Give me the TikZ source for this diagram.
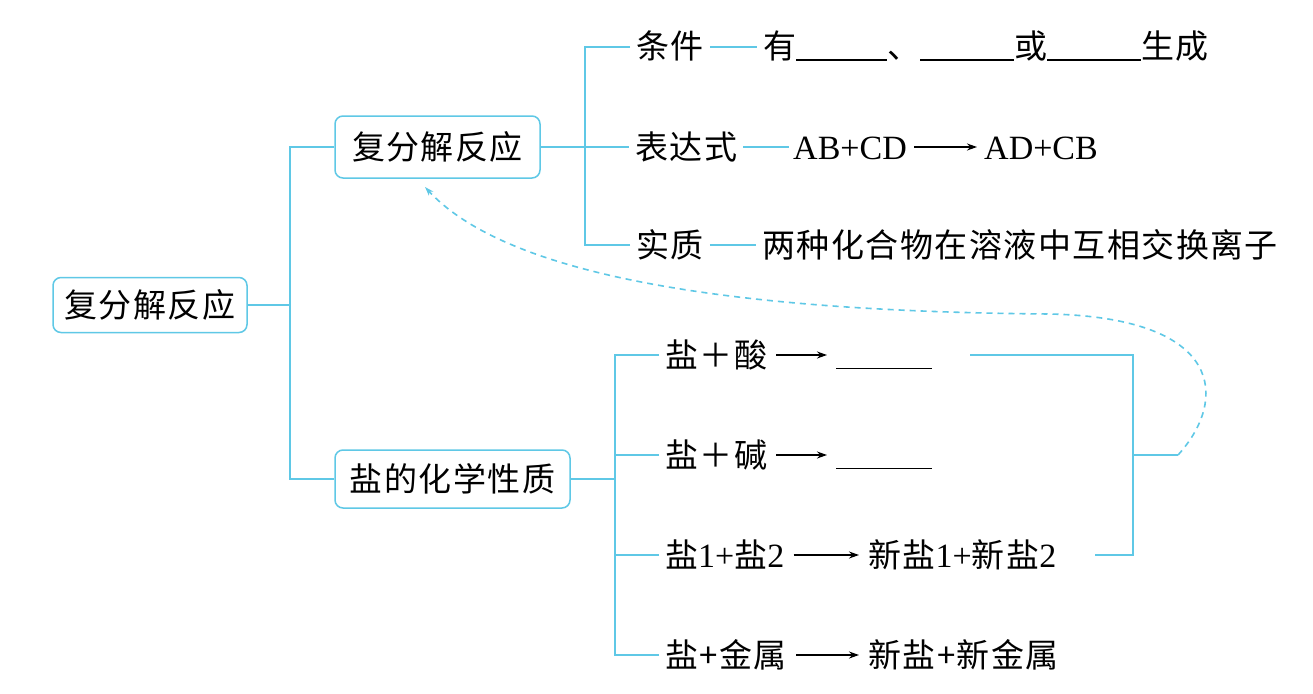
\documentclass[tikz,border=0pt]{standalone}
\usepackage{fontspec}
\setmainfont{Liberation Serif}
\newfontfamily\cjk[LetterSpace=4.5]{Noto Sans CJK SC}
\usetikzlibrary{arrows.meta}
\definecolor{mapline}{RGB}{95,200,230}
\newcommand{\latnum}[1]{{\rmfamily\fontsize{34}{40}\selectfont #1}}
\tikzset{
  cjkfont/.style={font=\cjk\fontsize{33}{38}\selectfont},
  mapbox/.style={cjkfont, draw=mapline, line width=1.5pt, rounded corners=8pt, fill=white,
    inner sep=0pt, text height=29pt, text depth=5pt, align=center},
  lbl/.style={cjkfont, inner xsep=6pt, inner ysep=3pt, text height=29pt, text depth=5pt, anchor=west},
  latin/.style={font=\rmfamily\fontsize{34}{40}\selectfont, inner xsep=4pt, inner ysep=3pt, text height=29pt, text depth=5pt, anchor=west},
  conn/.style={draw=mapline, line width=1.8pt},
  reactarrow/.style={-{Stealth[length=10pt,width=7pt]}, line width=1.4pt, black, shorten <=3pt, shorten >=3pt},
  loopback/.style={draw=mapline, line width=1.6pt, dash pattern=on 6pt off 5pt, -{Stealth[length=9pt,width=6pt]}},
}
\begin{document}
\begin{tikzpicture}[x=1pt,y=-1pt]
\useasboundingbox[fill=white] (0,0) rectangle (1313,693);

% boxes
\node[mapbox, minimum width=194pt, minimum height=55pt] (L) at (150,305) {复分解反应};
\node[mapbox, minimum width=205pt, minimum height=62pt] (T) at (437.5,147) {复分解反应};
\node[mapbox, minimum width=235pt, minimum height=58pt] (S) at (452.5,479) {盐的化学性质};

% trunk
\coordinate (j0) at (290,305);
\draw[conn] (L.east) -- (j0);
\draw[conn] (T.west) -| (j0);
\draw[conn] (S.west) -| (j0);

% upper branch
\coordinate (j1) at (585,147);
\node[lbl] (k1) at (630,47) {条件};
\node[lbl] (k2) at (629,147) {表达式};
\node[lbl] (k3) at (630,245) {实质};
\draw[conn] (T.east) -- (j1);
\draw[conn] (k1.west) -| (j1);
\draw[conn] (k3.west) -| (j1);
\draw[conn] (j1) -- (k2.west);

\node[lbl] (v1) at (757,47) {有\rule[-2pt]{91pt}{1.5pt}、\rule[-2pt]{94pt}{1.5pt}或\rule[-2pt]{94pt}{1.5pt}生成};
\node[latin] (v2) at (789,147) {AB+CD};
\node[latin] (w2) at (980,147) {AD+CB};
\node[lbl] (v3) at (756,245) {两种化合物在溶液中互相交换离子};
\draw[conn] (k1.east) -- (v1.west);
\draw[conn] (k2.east) -- (v2.west);
\draw[conn] (k3.east) -- (v3.west);
\draw[reactarrow] (v2.east) -- (w2.west);

% lower branch
\coordinate (j2) at (615,479);
\draw[conn] (S.east) -- (j2);
\node[lbl] (r1) at (659,355) {盐＋酸};
\node[lbl] (r2) at (659,455) {盐＋碱};
\node[lbl] (r3) at (659,555) {盐\latnum{1+}盐\latnum{2}};
\node[lbl] (r4) at (659,655) {盐+金属};
\draw[conn] (r1.west) -| (j2);
\draw[conn] (r2.west) -| (j2);
\draw[conn] (r3.west) -| (j2);
\draw[conn] (r4.west) -| (j2);

\node[lbl] (p1) at (830,355) {\rule[-2pt]{96pt}{1.5pt}};
\node[lbl] (p2) at (830,455) {\rule[-2pt]{96pt}{1.5pt}};
\node[lbl] (p3) at (862,555) {新盐\latnum{1+}新盐\latnum{2}};
\node[lbl] (p4) at (862,655) {新盐+新金属};
\draw[reactarrow] (r1.east) -- (p1.west);
\draw[reactarrow] (r2.east) -- (p2.west);
\draw[reactarrow] (r3.east) -- (p3.west);
\draw[reactarrow] (r4.east) -- (p4.west);

% right bracket
\coordinate (b1) at (970,355);
\coordinate (b3) at (1095,555);
\coordinate (bm) at (1133,455);
\coordinate (bt) at (1178,455);
\draw[conn] (b1) -- (b1 -| bm) -- (b3 -| bm) -- (b3);
\draw[conn] (bm) -- (bt);

% dashed loop back
\coordinate (tip) at (425,187);
\draw[loopback] (bt) .. controls (1228,400) and (1225,318) .. (1050,314)
  .. controls (800,312) and (520,290) .. (tip);
\end{tikzpicture}
\end{document}
